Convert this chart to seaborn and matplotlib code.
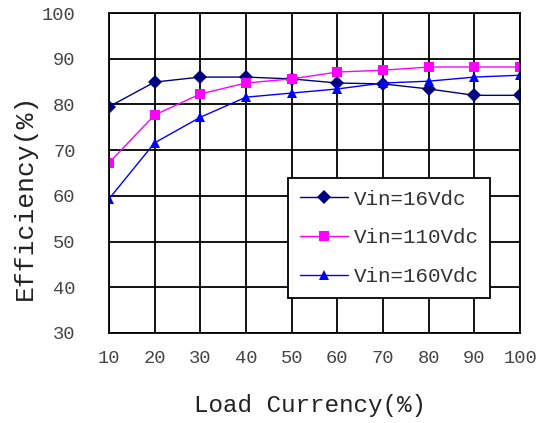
import pandas as pd
import seaborn as sns
import matplotlib.pyplot as plt

# data
load = [10, 20, 30, 40, 50, 60, 70, 80, 90, 100]
vin16 = [79.5, 84.9, 86.0, 86.0, 85.6, 84.7, 84.5, 83.4, 82.0, 82.0]
vin110 = [67.2, 77.7, 82.3, 84.7, 85.6, 87.1, 87.5, 88.2, 88.2, 88.2]
vin160 = [59.3, 71.6, 77.2, 81.6, 82.5, 83.4, 84.7, 85.1, 86.0, 86.4]
labels = ["Vin=16Vdc", "Vin=110Vdc", "Vin=160Vdc"]
colors = ["#000080", "#FF00FF", "#0000FF"]

df = pd.concat([
    pd.DataFrame({"load": load, "eff": v, "series": lab})
    for v, lab in zip([vin16, vin110, vin160], labels)
])

sns.set_style("white")
plt.rcParams["font.family"] = ["Liberation Mono", "DejaVu Sans Mono"]

fig = plt.figure(figsize=(5.39, 4.23), dpi=100)
ax = fig.add_axes([0.202, 0.213, 0.763, 0.756])

sns.lineplot(data=df, x="load", y="eff", hue="series", style="series",
             markers=["D", "s", "^"], dashes=False, palette=colors,
             markersize=7, linewidth=1.0, markeredgewidth=0, ax=ax)

ax.set_xlim(10, 100)
ax.set_ylim(30, 100)
ax.set_xticks(load)
ax.set_yticks(range(30, 101, 10))
ax.grid(True, color="black", linewidth=1.3)
ax.set_axisbelow(True)
for s in ax.spines.values():
    s.set_color("black")
    s.set_linewidth(1.3)
ax.tick_params(axis="y", length=0, pad=24, labelsize=13.5, colors="#444444")
ax.tick_params(axis="x", length=0, pad=12, labelsize=13.5, colors="#444444")
ax.set_xlabel("Load Currency(%)", fontsize=17.5, va="top", color="#222222")
ax.set_ylabel("Efficiency(%)", fontsize=19, color="#222222")
ax.xaxis.set_label_coords(0.489, -0.19)
ax.yaxis.set_label_coords(-0.175, 0.425)

leg = ax.legend(loc="upper left", bbox_to_anchor=(0.436, 0.484), fontsize=15,
                borderaxespad=0, frameon=True, fancybox=False,
                edgecolor="black", framealpha=1, handlelength=2.3,
                handletextpad=0.3, labelspacing=0.95, borderpad=0.55)
leg.get_frame().set_linewidth(1.3)
for t in leg.get_texts():
    t.set_color("#333333")

fig.savefig("out.png", dpi=100)
